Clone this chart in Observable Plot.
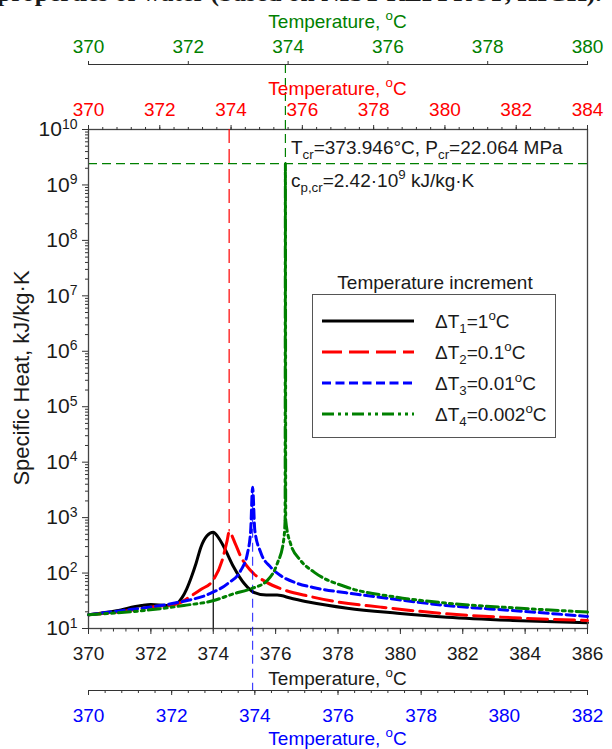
<!DOCTYPE html>
<html><head><meta charset="utf-8">
<script src="https://cdn.jsdelivr.net/npm/d3@7"></script>
<script src="https://cdn.jsdelivr.net/npm/@observablehq/plot@0.6"></script>
<style>
html,body{margin:0;padding:0;background:#fff;}
#wrap{position:relative;width:612px;height:749px;overflow:hidden;font-family:"Liberation Sans",Arial,sans-serif;color:#1a1a1a;}
#wrap svg{position:absolute;left:0;top:0;overflow:visible;}
.t{position:absolute;white-space:nowrap;font-size:19px;line-height:1;}
.t sub,.t sup{font-size:0.7em;line-height:0;}
.t sub{vertical-align:-0.4em}
.t sup{vertical-align:0.6em}
.c{transform:translate(-50%,-50%);}
.l{transform:translateY(-50%);}
</style></head><body><div id="wrap"></div>
<script>
// ---------------- data ----------------
const tcr = 373.946;        // critical temperature, °C
const pcr = 22.064;         // critical pressure, MPa
const cpCr = 2.42e9;        // cp at critical point, kJ/kg·K

// ΔT1 = 1 °C  (main bottom axis)
const tBlack  = [370, 370.9, 371.7, 372.0, 372.5, 372.85, 373.0, 373.15, 373.3, 373.45, 373.6, 373.8, 374.0, 374.15, 374.35, 374.65, 375.0, 375.3, 375.7, 376.05, 376.5, 377.05, 378.3, 379.9, 381.5, 383.6, 386];
const cpBlack = [17.7, 21, 26, 27, 26, 29, 36, 52, 85, 150, 290, 470, 546, 450, 290, 130, 64, 45, 40, 40, 35, 30, 23.2, 18.9, 16, 14, 12.7];
// ΔT2 = 0.1 °C  (red top axis)
const tRed  = [370, 371.0, 371.75, 372.5, 372.86, 373.14, 373.5, 373.75, 373.89, 373.946, 374.12, 374.26, 374.55, 375.0, 375.4, 376.2, 377.0, 378.2, 380.05, 381.95, 384];
const cpRed = [17.7, 20.5, 24.3, 28, 38, 50, 75, 169, 386, 550, 337, 206, 111, 68, 52, 38, 30, 24.3, 18.4, 15.6, 14];
// ΔT3 = 0.01 °C  (blue lower axis)
const tBlue  = [370, 370.8, 371.5, 372.2, 372.9, 373.34, 373.66, 373.82, 373.9, 373.946, 374.0, 374.14, 374.38, 374.62, 375.0, 375.4, 376.2, 377.0, 378.6, 380.2, 382];
const cpBlue = [17.7, 21, 24.5, 30, 42, 64, 111, 222, 585, 3540, 585, 237, 128, 90, 66, 55, 44, 36.7, 26, 21.1, 16.5];
// ΔT4 = 0.002 °C  (green top axis)
const tGreen  = [370, 371.24, 371.91, 372.51, 372.9, 373.25, 373.58, 373.78, 373.91, 373.94, 373.946, 373.952, 374.05, 374.25, 374.52, 375.18, 376.18, 377.19, 378.52, 380];
const cpGreen = [17.7, 21.7, 26, 32, 42, 52, 73, 146, 386, 900, 2.42e9, 900, 337, 169, 104, 55.5, 36.7, 28.6, 23.6, 19.8];

const mainTicks  = [370, 372, 374, 376, 378, 380, 382, 384, 386];
const redTicks   = [370, 372, 374, 376, 378, 380, 382, 384];
const blueTicks  = [370, 372, 374, 376, 378, 380, 382];
const greenTicks = [370, 372, 374, 376, 378, 380];
const yExps = [1, 2, 3, 4, 5, 6, 7, 8, 9, 10];

const legendIdx   = ["1", "2", "3", "4"];
const legendSteps = ["1", "0.1", "0.01", "0.002"];
const legendTitle = "Temperature increment";
const axisTitle = "Temperature, <sup>o</sup>C";
const yTitle = "Specific Heat, kJ/kg·K";
const figTitle = "properties of water (based on NIST REFPROP, HIGH).";

// ---------------- layout / style ----------------
const W = 612, H = 749, ML = 88, MR = 25, MT = 129, MB = 121;
const RED = "#ff0000", BLUE = "#0000ff", GREEN = "#008000", BLACK = "#000000";
const FONT = '"Liberation Sans", Arial, sans-serif';
const styles = [
  {color: BLACK, dash: null},
  {color: RED, dash: "20,7"},
  {color: BLUE, dash: "9,4.5"},
  {color: GREEN, dash: "12,4,3,4,3,4"}
];

const wrap = document.getElementById("wrap");
const rows = (ts, cs) => ts.map((t, i) => ({t, cp: cs[i]}));
const peak = (ts, cs) => { const i = d3.maxIndex(cs); return [{t: ts[i], cp: cs[i]}]; };
const minor = (lo, hi, step) => d3.range(Math.round((hi - lo) / step) + 1).map(i => +(lo + i * step).toFixed(3));
const yMinor = [];
for (let e = 1; e < 10; e++) for (let m = 2; m <= 9; m++) yMinor.push(m * 10 ** e);
const yDomain = [10, 1e10];
const base = {width: W, height: H, marginLeft: ML, marginRight: MR,
  style: {background: "transparent", fontFamily: FONT, fontSize: "19px", color: "#1a1a1a", overflow: "visible"}};
const yScale = {type: "log", domain: yDomain, range: [H - MB, MT]};
const noY = {...yScale, axis: null};
const BLUE_AXIS = 690;
const GREEN_AXIS = 64;

// main plot (black curve, y axis, frame, bottom axis)
const mainPlot = Plot.plot({...base, marginTop: MT, marginBottom: MB,
  x: {domain: [370, 386]}, y: yScale,
  marks: [
    Plot.ruleY([cpCr], {stroke: GREEN, strokeWidth: 1.2, strokeDasharray: "9,5"}),
    Plot.ruleX(peak(tBlack, cpBlack), {x: "t", y1: "cp", y2: () => yDomain[0], stroke: BLACK, strokeWidth: 1.2}),
    Plot.line(rows(tBlack, cpBlack), {x: "t", y: "cp", stroke: styles[0].color, strokeWidth: 3, curve: "monotone-x"}),
    Plot.frame({stroke: "#444", strokeWidth: 1.3}),
    Plot.axisX({ticks: mainTicks, tickSize: 6, tickPadding: 12, stroke: "#333", fill: "#1a1a1a", fontSize: 19, label: null}),
    Plot.axisX({ticks: minor(370, 386, 0.4), tickSize: 3.5, tickFormat: () => "", stroke: "#333", label: null}),
    Plot.axisY({ticks: yExps.map(e => 10 ** e), tickSize: 6, tickPadding: 5, stroke: "#333", fill: "#1a1a1a", fontSize: 21,
      tickFormat: d => "10^" + Math.round(Math.log10(d)), label: null}),
    Plot.axisY({ticks: yMinor, tickSize: 3, tickFormat: () => "", stroke: "#333", label: null})
  ]});
mainPlot.querySelectorAll('g[aria-label="y-axis tick label"] text').forEach(t => {
  const s = t.textContent;
  if (!s.includes("^")) return;
  const [b, e] = s.split("^");
  t.textContent = "";
  const ns = "http://www.w3.org/2000/svg";
  const t1 = document.createElementNS(ns, "tspan"); t1.textContent = b;
  const t2 = document.createElementNS(ns, "tspan"); t2.textContent = e;
  t2.setAttribute("dy", "-0.55em"); t2.setAttribute("font-size", "14");
  t.appendChild(t1); t.appendChild(t2);
});

// red plot (top axis on frame)
const redPlot = Plot.plot({...base, marginTop: MT, marginBottom: MB,
  x: {domain: [370, 384]}, y: noY,
  marks: [
    Plot.ruleX(peak(tRed, cpRed), {x: "t", y1: () => yDomain[1], y2: "cp", stroke: RED, strokeWidth: 1.2, strokeDasharray: "14,6"}),
    Plot.line(rows(tRed, cpRed), {x: "t", y: "cp", stroke: RED, strokeWidth: 3, strokeDasharray: styles[1].dash, curve: "monotone-x"}),
    Plot.axisX({ticks: redTicks, anchor: "top", tickSize: 5, tickPadding: 9, stroke: "#333", fill: RED, fontSize: 19, label: null}),
    Plot.axisX({ticks: minor(370, 384, 0.4), anchor: "top", tickSize: 3, tickFormat: () => "", stroke: "#333", label: null})
  ]});

// blue plot (axis below)
const bluePlot = Plot.plot({...base, marginTop: MT, marginBottom: H - BLUE_AXIS,
  x: {domain: [370, 382]}, y: noY,
  marks: [
    Plot.ruleX(peak(tBlue, cpBlue), {x: "t", y1: "cp", y2: () => yDomain[0], insetBottom: (H - MB) - BLUE_AXIS,
      stroke: BLUE, strokeWidth: 1.2, strokeDasharray: "9,5", strokeOpacity: 0.75}),
    Plot.line(rows(tBlue, cpBlue), {x: "t", y: "cp", stroke: BLUE, strokeWidth: 3, strokeDasharray: styles[2].dash, curve: "monotone-x"}),
    Plot.frame({anchor: "bottom", stroke: "#333"}),
    Plot.axisX({ticks: blueTicks, anchor: "bottom", tickSize: 5, tickPadding: 13, stroke: "#333", fill: BLUE, fontSize: 19, label: null}),
    Plot.axisX({ticks: minor(370, 382, 0.4), anchor: "bottom", tickSize: 3, tickFormat: () => "", stroke: "#333", label: null})
  ]});

// green plot (axis on top)
const greenPlot = Plot.plot({...base, marginTop: GREEN_AXIS, marginBottom: MB,
  x: {domain: [370, 380]}, y: noY,
  marks: [
    Plot.ruleX(peak(tGreen, cpGreen), {x: "t", y1: () => yDomain[1], y2: "cp", insetTop: GREEN_AXIS - MT,
      stroke: GREEN, strokeWidth: 1.2, strokeDasharray: "9,5"}),
    Plot.line(rows(tGreen, cpGreen), {x: "t", y: "cp", stroke: GREEN, strokeWidth: 3, strokeDasharray: styles[3].dash, curve: "monotone-x"}),
    Plot.frame({anchor: "top", stroke: "#333"}),
    Plot.axisX({ticks: greenTicks, anchor: "top", tickSize: 4, tickPadding: 8, stroke: "#333", fill: GREEN, fontSize: 19, label: null})
  ]});

[mainPlot, redPlot, bluePlot, greenPlot].forEach(p => wrap.appendChild(p));

// ---------------- text overlays ----------------
function addText(html, cls, css) {
  const d = document.createElement("div");
  d.className = "t " + cls;
  d.innerHTML = html;
  Object.assign(d.style, css);
  wrap.appendChild(d);
  return d;
}
const cx = (ML + W - MR) / 2;
addText(figTitle, "", {left: "-3px", top: "-20px", fontFamily: '"Liberation Serif", serif', fontWeight: "bold", fontSize: "25.5px", lineHeight: "26px"});
addText(axisTitle, "c", {left: cx + "px", top: "21px", color: GREEN});
addText(axisTitle, "c", {left: cx + "px", top: "88px", color: RED});
addText(axisTitle, "c", {left: cx + "px", top: "678px", color: "#1a1a1a"});
addText(axisTitle, "c", {left: cx + "px", top: "738px", color: BLUE});
addText(yTitle, "", {left: "22px", top: "378px", fontSize: "22px", transform: "translate(-50%,-50%) rotate(-90deg)"});

addText(`T<sub>cr</sub>=${tcr}°C, P<sub>cr</sub>=${pcr} MPa`, "l", {left: "291px", top: "147px"});
addText(`c<sub>p,cr</sub>=${(cpCr / 1e9).toFixed(2)}·10<sup>9</sup> kJ/kg·K`, "l", {left: "291px", top: "180px"});

// legend
addText(legendTitle, "c", {left: "435px", top: "282px"});
const box = document.createElement("div");
Object.assign(box.style, {position: "absolute", left: "312px", top: "294px", width: "244px", height: "144px",
  border: "1.5px solid #555", boxSizing: "border-box"});
wrap.appendChild(box);
legendIdx.forEach((k, i) => {
  const yc = 321 + i * 31;
  const ns = "http://www.w3.org/2000/svg";
  const s = document.createElementNS(ns, "svg");
  s.setAttribute("width", 92); s.setAttribute("height", 8);
  s.style.left = "322px"; s.style.top = (yc - 4) + "px";
  const ln = document.createElementNS(ns, "line");
  ln.setAttribute("x1", 0); ln.setAttribute("x2", 92); ln.setAttribute("y1", 4); ln.setAttribute("y2", 4);
  ln.setAttribute("stroke", styles[i].color); ln.setAttribute("stroke-width", 3);
  if (styles[i].dash) ln.setAttribute("stroke-dasharray", styles[i].dash);
  s.appendChild(ln);
  wrap.appendChild(s);
  addText(`ΔT<sub>${k}</sub>=${legendSteps[i]}<sup>o</sup>C`, "l", {left: "435px", top: yc + "px"});
});
</script>
</body></html>
